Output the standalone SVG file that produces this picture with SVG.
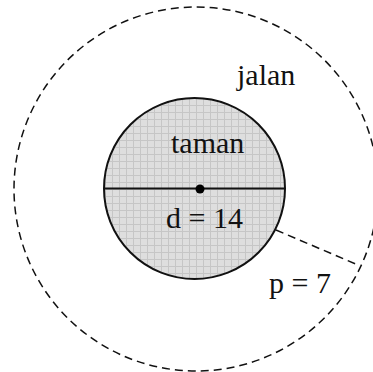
<svg xmlns="http://www.w3.org/2000/svg" width="373" height="372" viewBox="0 0 373 372">
<style>
.lbl{font-family:"Liberation Serif","Times New Roman",serif;font-size:30px;fill:#111}
.dash{fill:none;stroke:#111;stroke-width:1.5;stroke-dasharray:8,5}
</style>
<defs>
<pattern id="grid" width="7" height="7" patternUnits="userSpaceOnUse">
<rect width="7" height="7" fill="#dedede"/>
<path d="M0 0.5H7M0.5 0V7" stroke="#c6c6c6" stroke-width="1"/>
</pattern>
</defs>
<rect width="373" height="372" fill="#fff"/>
<g id="jalan">
<circle class="dash" cx="196" cy="189" r="182"/>
<text class="lbl" x="237" y="85">jalan</text>
</g>
<g id="taman">
<circle cx="194.5" cy="188.5" r="90.5" fill="url(#grid)" stroke="#111" stroke-width="2"/>
<text class="lbl" x="171" y="153">taman</text>
<text class="lbl" x="166" y="228">d = 14</text>
</g>
<g id="connectors">
<line x1="104" y1="188.5" x2="285" y2="188.5" stroke="#111" stroke-width="2"/>
<circle cx="200" cy="189" r="4.5" fill="#000"/>
<line class="dash" x1="276" y1="230" x2="358" y2="265"/>
</g>
<text class="lbl" x="269" y="293">p = 7</text>
</svg>
